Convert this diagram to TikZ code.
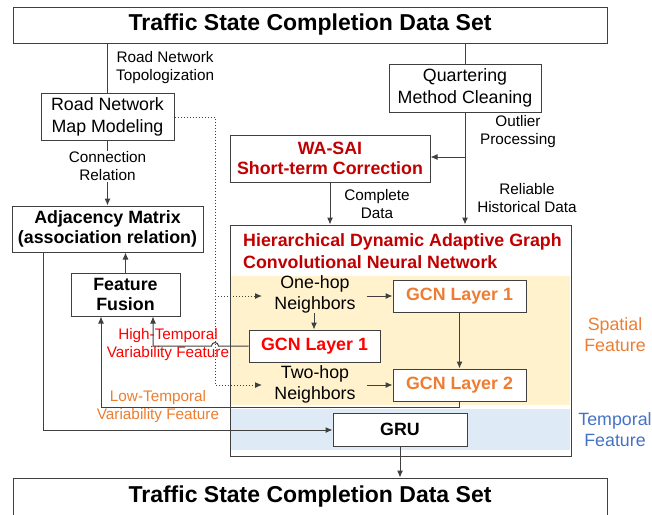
\documentclass[tikz,border=0pt]{standalone}
\usepackage{fontspec}
\setmainfont{Liberation Sans}
\usetikzlibrary{arrows.meta}
\definecolor{linegray}{RGB}{64,64,64}
\definecolor{darkred}{RGB}{192,0,0}
\definecolor{brightred}{RGB}{255,0,0}
\definecolor{orangetxt}{RGB}{237,125,49}
\definecolor{bluetxt}{RGB}{68,114,196}
\definecolor{spatialfill}{RGB}{255,242,204}
\definecolor{temporalfill}{RGB}{222,235,247}
\begin{document}
\begin{tikzpicture}[x=1pt,y=-1pt,
  box/.style={draw=linegray, line width=1pt, fill=white, inner sep=0pt, align=center,
              font=\fontsize{17.8}{22}\selectfont},
  boldbox/.style={box, font=\fontsize{17.8}{20}\selectfont\bfseries},
  lbl/.style={inner sep=0pt, align=center, font=\fontsize{15.3}{18}\selectfont},
  txt/.style={inner sep=0pt, align=center, font=\fontsize{17.8}{21}\selectfont},
  conn/.style={draw=linegray, line width=1pt},
  arr/.style={conn, -{Latex[length=7pt,width=6pt]}},
  dotarr/.style={draw=linegray, line width=1pt, dotted, -{Latex[length=7pt,width=6pt]}},
]
\useasboundingbox (0,0) rectangle (652,514);

% shaded bands inside the network block
\fill[spatialfill] (231,276) rectangle (570,405);
\fill[temporalfill] (231,409) rectangle (570,450);
\node[draw=linegray, line width=1pt, inner sep=0pt, minimum width=341pt, minimum height=231pt] (hd) at (400.5,340.5) {};
\node[anchor=west, inner sep=0pt, align=left, text=darkred, font=\fontsize{17.8}{22}\selectfont\bfseries] (hdtitle) at (243,251)
  {Hierarchical Dynamic Adaptive Graph\\Convolutional Neural Network};

% boxes
\node[box, font=\fontsize{23}{27}\selectfont\bfseries, minimum width=594pt, minimum height=36pt] (top) at (310,25) {Traffic State Completion Data Set};
\node[box, minimum width=133pt, minimum height=47pt] (rnmm) at (107.5,116.5) {Road Network\\Map Modeling};
\node[boldbox, minimum width=191pt, minimum height=46pt] (adj) at (107.5,229) {Adjacency Matrix\\(association relation)};
\node[boldbox, minimum width=109pt, minimum height=43pt] (ff) at (125.5,294.5) {Feature\\Fusion};
\node[box, minimum width=152pt, minimum height=48pt] (qmc) at (465,88) {Quartering\\Method Cleaning};
\node[boldbox, text=darkred, minimum width=200pt, minimum height=47pt] (wasai) at (330,158.5) {WA-SAI\\Short-term Correction};
\node[boldbox, text=orangetxt, minimum width=133pt, minimum height=32pt] (gcnoa) at (459.5,296) {GCN Layer 1};
\node[boldbox, text=brightred, minimum width=131pt, minimum height=32pt] (gcnr) at (314.5,346) {GCN Layer 1};
\node[boldbox, text=orangetxt, minimum width=133pt, minimum height=32pt] (gcnob) at (459.5,385) {GCN Layer 2};
\node[boldbox, minimum width=134pt, minimum height=33pt] (gru) at (400,429.5) {GRU};
\node[box, font=\fontsize{23}{27}\selectfont\bfseries, minimum width=594pt, minimum height=40pt] (bottom) at (310,498) {};
\node[inner sep=0pt, font=\fontsize{23}{27}\selectfont\bfseries] (bottomtxt) at (310,497) {Traffic State Completion Data Set};

% neighbour texts
\node[txt] (onehop) at (315,294.5) {One-hop\\Neighbors};
\node[txt] (twohop) at (315,384) {Two-hop\\Neighbors};

% side labels
\node[lbl, anchor=west] (topo) at (116,68) {Road Network\\Topologization};
\node[lbl] (outl) at (518,132) {Outlier\\Processing};
\node[lbl] (reli) at (527,198.5) {Reliable\\Historical Data};
\node[lbl] (compl) at (377,204) {Complete\\Data};
\node[lbl, text=brightred] (hightv) at (168,345) {High-Temporal\\Variability Feature};
\node[lbl, text=orangetxt] (lowtv) at (158,406.5) {Low-Temporal\\Variability Feature};
\node[txt, text=orangetxt] (spat) at (615,335) {Spatial\\Feature};
\node[txt, text=bluetxt] (temp) at (615,429.5) {Temporal\\Feature};

% helper points
\coordinate (dotA) at (215,117);
\coordinate (dotB) at (215,296);
\coordinate (dotC) at (215,385);
\coordinate (oneEnd) at (367,296);
\coordinate (twoEnd) at (367,385);
\coordinate (split) at (465,157);
\coordinate (adjDown) at (43,430);
\coordinate (hiCorner) at (153,346);
\coordinate (loRight) at (459,407);
\coordinate (loLeft) at (101,407);

% left column
\draw[conn] (top.south -| rnmm.north) -- (rnmm.north);
\draw[arr] (rnmm.south) -- node[pos=0.4, lbl, fill=white, inner ysep=1pt] {Connection\\Relation} (adj.north);
\draw[arr] (ff.north) -- (ff.north |- adj.south);
\draw[arr] (adj.south -| adjDown) -- (adjDown) -- (adjDown -| gru.west);

% right column
\draw[conn] (top.south -| qmc.north) -- (qmc.north);
\draw[arr] (qmc.south) -- (qmc.south |- hd.north);
\draw[arr] (split) -- (split -| wasai.east);
\draw[arr] (wasai.south) -- (wasai.south |- hd.north);

% dotted links from the road network map
\draw[dotarr] (rnmm.east |- dotA) -- (dotA) -- (dotC) -- (dotC -| 262,0);
\draw[dotarr] (dotB) -- (dotB -| 262,0);

% inside the network block
\draw[arr] (oneEnd) -- (gcnoa.west);
\draw[arr] (twoEnd) -- (gcnob.west);
\draw[arr] (314,313) -- (gcnr.north -| 314,0);
\draw[arr] (gcnoa.south) -- (gcnob.north);

% feature feedback to fusion
\draw[arr] (gcnr.west) -- (218.5,346) arc[start angle=0, end angle=180, radius=3.5pt] -- (hiCorner) -- (hiCorner |- ff.south);
\draw[arr] (gcnob.south -| loRight) -- (loRight) -- (loLeft) -- (loLeft |- ff.south);

% output
\draw[arr] (gru.south) -- (gru.south |- bottom.north);
\end{tikzpicture}
\end{document}
